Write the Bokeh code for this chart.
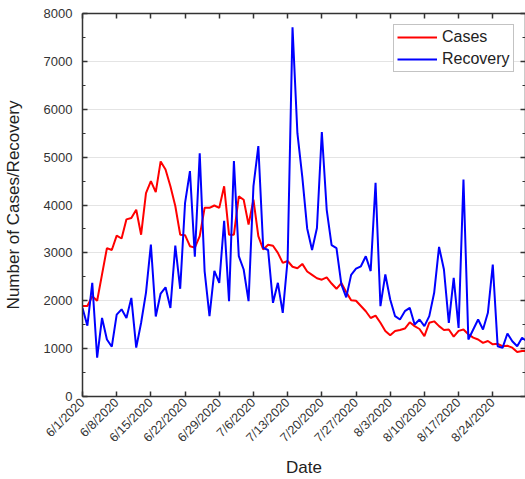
import math
from bokeh.plotting import figure
from bokeh.models import (ColumnDataSource, Range1d, FixedTicker, LinearAxis, Legend, LegendItem)
from bokeh.embed import file_html
from bokeh.resources import INLINE

# Day index from 6/1/2020
days = list(range(92))

cases = [1890, 1890, 2095, 2000, 2550, 3100, 3060, 3360, 3300, 3700,
         3730, 3900, 3380, 4250, 4500, 4270, 4910, 4740, 4390, 3980,
         3380, 3370, 3140, 3110, 3350, 3940, 3940, 3990, 3940, 4390,
         3380, 3380, 4180, 4110, 3590, 4110, 3350, 3070, 3170, 3150,
         3000, 2790, 2830, 2710, 2680, 2770, 2610, 2540, 2470, 2440,
         2490, 2360, 2250, 2370, 2180, 2010, 2000, 1890, 1780, 1640,
         1690, 1540, 1370, 1280, 1370, 1390, 1420, 1550, 1470, 1410,
         1260, 1540, 1570, 1470, 1390, 1400, 1250, 1370, 1400, 1300,
         1230, 1190, 1120, 1160, 1090, 1100, 1050, 1060, 1020, 930,
         950, 950]

recovery = [1850, 1480, 2375, 810, 1640, 1190, 1040, 1710, 1820, 1640,
            2060, 1020, 1540, 2170, 3175, 1670, 2150, 2280, 1850, 3150,
            2250, 4046, 4707, 2920, 5080, 2620, 1680, 2623, 2375, 3670,
            1990, 4916, 2931, 2653, 1991, 4394, 5229, 3106, 3060, 1957,
            2374, 1748, 2862, 7710, 5500, 4589, 3510, 3060, 3520, 5525,
            3900, 3160, 3100, 2340, 2070, 2540, 2670, 2720, 2930, 2620,
            4464, 1887, 2549, 2026, 1678, 1609, 1783, 1852, 1504, 1609,
            1469, 1678, 2166, 3126, 2653, 1539, 2479, 1434, 4533, 1191,
            1400, 1609, 1400, 1748, 2757, 1051, 1016, 1316, 1155, 1051,
            1225, 1155]

tick_days = [0, 7, 14, 21, 28, 35, 42, 49, 56, 63, 70, 77, 84]
tick_labels = ["6/1/2020", "6/8/2020", "6/15/2020", "6/22/2020", "6/29/2020",
               "7/6/2020", "7/13/2020", "7/20/2020", "7/27/2020", "8/3/2020",
               "8/10/2020", "8/17/2020", "8/24/2020"]
y_ticks = [0, 1000, 2000, 3000, 4000, 5000, 6000, 7000, 8000]
y_minor = [500, 1500, 2500, 3500, 4500, 5500, 6500, 7500]

FONT = "Liberation Sans"

src = ColumnDataSource(dict(day=days, cases=cases, recovery=recovery))

p = figure(width=525, height=479, output_backend="svg", toolbar_location=None,
           x_range=Range1d(0, 90.7), y_range=Range1d(0, 8000),
           min_border_left=80, min_border_right=0, min_border_top=13,
           min_border_bottom=80)
p.outline_line_color = None
p.background_fill_color = "white"
p.border_fill_color = "white"

r_cases = p.line("day", "cases", source=src, line_color="#ff0000", line_width=2)
r_rec = p.line("day", "recovery", source=src, line_color="#0000ff", line_width=2)

xt = FixedTicker(ticks=tick_days, minor_ticks=[])
yt = FixedTicker(ticks=y_ticks, minor_ticks=y_minor)

def style_axis(ax):
    ax.axis_line_color = "#333333"
    ax.axis_line_width = 1.5
    ax.major_tick_line_color = "#333333"
    ax.major_tick_line_width = 1.5
    ax.minor_tick_line_color = "#333333"
    ax.minor_tick_line_width = 1.2
    ax.major_tick_in = 5
    ax.major_tick_out = 0
    ax.minor_tick_in = 3
    ax.minor_tick_out = 0
    ax.major_label_text_font = FONT
    ax.major_label_text_color = "#333333"
    ax.axis_label_text_font = FONT
    ax.axis_label_text_font_style = "normal"
    ax.axis_label_text_color = "#222222"

xa = p.xaxis[0]
xa.ticker = xt
xa.major_label_overrides = {d: l for d, l in zip(tick_days, tick_labels)}
style_axis(xa)
xa.major_label_orientation = math.pi / 4
xa.major_label_text_font_size = "12.5px"
xa.major_label_standoff = 4
xa.axis_label = "Date"
xa.axis_label_text_font_size = "17px"
xa.axis_label_standoff = 5

ya = p.yaxis[0]
ya.ticker = yt
style_axis(ya)
ya.major_label_text_font_size = "13px"
ya.major_label_standoff = 10
ya.axis_label = "Number of Cases/Recovery"
ya.axis_label_text_font_size = "17px"
ya.axis_label_standoff = 18

top = LinearAxis(ticker=FixedTicker(ticks=tick_days, minor_ticks=[]))
style_axis(top)
top.major_label_text_font_size = "0px"
top.major_label_standoff = 0
top.major_label_overrides = {d: "" for d in tick_days}
p.add_layout(top, "above")

right = LinearAxis(ticker=FixedTicker(ticks=y_ticks, minor_ticks=y_minor))
style_axis(right)
right.major_label_text_font_size = "0px"
right.major_label_standoff = 0
right.major_label_overrides = {v: "" for v in y_ticks}
p.add_layout(right, "right")

p.xgrid.visible = False
p.ygrid.ticker = yt
p.ygrid.grid_line_color = "#e4e4e4"
p.ygrid.grid_line_width = 1

legend = Legend(items=[LegendItem(label="Cases", renderers=[r_cases]),
                       LegendItem(label="Recovery", renderers=[r_rec])],
                location=(311, 324))
legend.margin = 0
legend.label_text_font = FONT
legend.label_text_font_size = "16px"
legend.label_text_color = "#222222"
legend.glyph_width = 40
legend.glyph_height = 16
legend.label_height = 16
legend.label_standoff = 5
legend.padding = 3
legend.spacing = 4
legend.border_line_color = "#888888"
legend.border_line_width = 1.5
legend.background_fill_alpha = 1.0
p.add_layout(legend)

open("out.html", "w").write(file_html(p, INLINE))
